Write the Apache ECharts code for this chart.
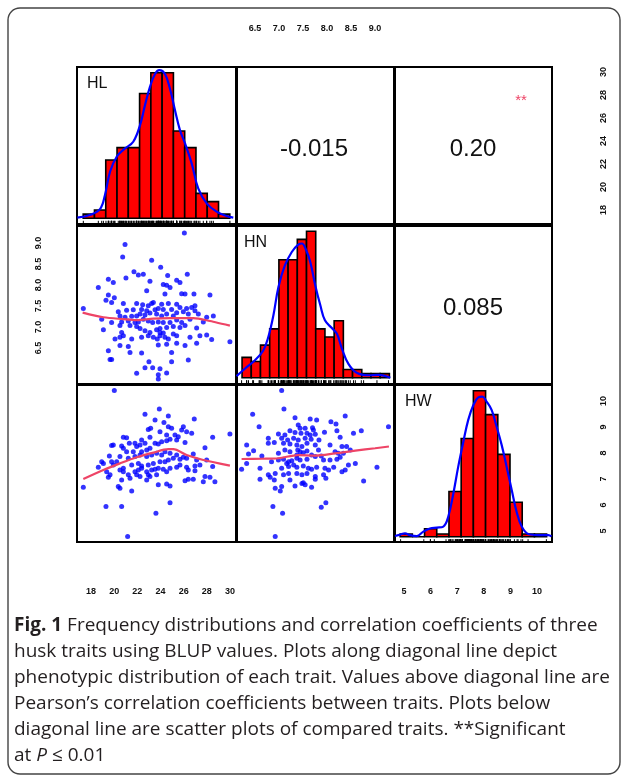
<!DOCTYPE html>
<html>
<head>
<meta charset="utf-8">
<script src="https://cdn.jsdelivr.net/npm/echarts@6/dist/echarts.min.js"></script>
<style>
  html, body { margin: 0; padding: 0; background: #fff; }
  #chart { width: 627px; height: 778px; }
</style>
</head>
<body>
<div id="chart"></div>
<script>
// ---- data ----
const traits = ['HL', 'HN', 'HW'];

// histogram breaks and counts on the diagonal
const hlBreaks = [17, 18, 19, 20, 21, 22, 23, 24, 25, 26, 27, 28, 29, 30];
const hlCounts = [1, 2, 14, 17, 17, 30, 35, 35, 21, 17, 6, 4, 1];
const hnBreaks = [6.2, 6.4, 6.6, 6.8, 7.0, 7.2, 7.4, 7.6, 7.8, 8.0, 8.2, 8.4, 8.6, 8.8, 9.0, 9.2, 9.4];
const hnCounts = [5, 4, 8, 12, 29, 29, 34, 36, 12, 10, 14, 2, 2, 1, 1, 1];
const hwBreaks = [4.5, 5.0, 5.5, 6.0, 6.5, 7.0, 7.5, 8.0, 8.5, 9.0, 9.5, 10.0, 10.5];
const hwCounts = [1, 0, 3, 1, 17, 37, 55, 46, 31, 13, 1, 1];

// density curves (in count units)
const hlDensity = [[16.48,0.16],[17.6,0.8],[18.49,2.2],[18.93,5.6],[19.38,11.2],[19.97,14.8],[20.71,16.8],
  [21.44,18.4],[22.04,22.4],[22.48,27.2],[22.92,31.6],[23.37,34.7],[23.75,35.6],[24.25,34.7],[24.69,31.2],
  [25.14,26],[25.58,21.2],[26.03,18],[26.62,13.2],[27.2,7.2],[27.95,3.6],[28.83,1.6],[29.72,0.56],[30.31,0.16]];
const hnDensity = [[6.08,0.4],[6.26,2.2],[6.48,4.3],[6.66,6.7],[6.77,10],[6.88,15.3],[6.99,22.3],[7.13,27.6],
  [7.28,30.9],[7.42,32.7],[7.5,33],[7.58,31.7],[7.68,28.5],[7.79,22.7],[7.9,17.8],[8.0,14.1],[8.15,12.2],
  [8.26,10.8],[8.37,7.1],[8.51,3.4],[8.69,1.2],[8.95,0.6],[9.16,0.7],[9.42,0]];
const hwDensity = [[4.29,0.25],[4.49,0.75],[4.7,1.26],[4.9,0.6],[5.18,0.25],[5.45,1.9],[5.72,3.1],[6.0,3.4],
  [6.27,3.8],[6.47,7.5],[6.68,16.3],[6.88,26.4],[7.09,35.8],[7.29,44],[7.5,49.6],[7.7,52.5],[7.87,52.8],
  [8.04,50.9],[8.25,47.7],[8.45,41.5],[8.66,34.5],[8.86,26.4],[9.07,17.6],[9.27,9.4],[9.48,3.8],[9.75,1],
  [10.16,0.6],[10.57,0.6],[10.7,0.1]];

// scatter: HL (x) vs HN (y)
const hlHn = [[25.97,9.35],[20.71,9.10],[20.50,8.83],[23.07,8.76],[23.87,8.61],[21.50,8.51],[20.79,8.38],[21.89,8.44],
  [22.33,8.46],[24.49,8.43],[26.23,8.46],[19.23,8.35],[19.67,8.28],[22.92,8.31],[24.10,8.24],[24.40,8.22],[25.29,8.33],
  [25.58,8.28],[24.70,8.17],[18.34,8.17],[22.63,8.10],[24.25,8.03],[25.73,8.04],[19.23,8.01],[19.76,7.95],[19.02,7.90],
  [19.52,7.85],[20.56,7.83],[21.74,7.83],[22.27,7.80],[23.07,7.83],[23.22,7.85],[22.77,7.78],[23.96,7.81],[24.55,7.83],
  [25.29,7.81],[26.03,8.03],[26.82,8.03],[28.24,8.01],[17.01,7.72],[20.11,7.65],[20.85,7.68],[21.44,7.69],[22.18,7.70],
  [22.63,7.67],[23.37,7.69],[23.66,7.72],[24.10,7.70],[24.84,7.70],[25.58,7.74],[26.17,7.72],[26.62,7.74],[26.91,7.78],
  [26.91,7.67],[20.26,7.56],[20.71,7.53],[21.30,7.55],[21.74,7.56],[22.04,7.60],[22.48,7.58],[22.92,7.62],[23.51,7.60],
  [23.96,7.56],[24.40,7.60],[24.99,7.56],[25.29,7.63],[25.88,7.65],[26.32,7.60],[27.21,7.60],[27.95,7.53],[28.54,7.56],
  [18.64,7.49],[19.52,7.42],[20.41,7.43],[21.00,7.45],[21.59,7.42],[21.89,7.43],[22.33,7.49],[22.77,7.45],[23.16,7.42],
  [23.66,7.43],[24.10,7.42],[24.70,7.42],[25.29,7.47],[25.73,7.42],[26.47,7.49],[27.65,7.43],[18.79,7.26],[20.26,7.35],
  [21.15,7.35],[21.74,7.33],[22.04,7.29],[22.48,7.24],[22.92,7.20],[23.51,7.26],[23.81,7.29],[24.40,7.31],[24.99,7.33],
  [25.58,7.31],[26.03,7.35],[27.06,7.30],[19.82,7.06],[20.26,7.10],[20.56,7.13],[21.30,7.06],[22.18,7.10],[22.77,7.13],
  [23.22,7.10],[23.57,7.06],[23.81,7.13],[24.25,7.10],[24.55,7.06],[24.99,7.17],[25.29,7.13],[26.47,7.10],[27.35,7.13],
  [27.95,7.15],[28.39,7.05],[30.01,7.00],[20.26,6.92],[21.00,6.90],[23.66,6.93],[24.40,6.95],[25.29,6.97],[26.03,6.92],
  [27.06,6.97],[19.23,6.81],[21.15,6.77],[22.18,6.76],[24.84,6.77],[19.38,6.62],[19.52,6.62],[26.32,6.61],[22.83,6.57],
  [24.84,6.57],[22.48,6.44],[23.16,6.44],[23.81,6.42],[21.74,6.32],[24.40,6.33],[23.66,6.29],[23.66,6.20],[20.41,7.20],
  [23.81,7.20],[24.10,7.19]];
const hlHnSmooth = [[16.95,7.63],[18.79,7.53],[20.56,7.49],[21.74,7.47],[23.22,7.50],[24.70,7.51],[26.76,7.51],[28.24,7.45],[30.01,7.35]];

// scatter: HL (x) vs HW (y)
const hlHw = [[19.76,10.49],[23.75,9.74],[22.48,9.52],[24.55,9.45],[26.85,9.33],[23.37,9.29],[24.16,9.18],[22.77,8.90],
  [22.98,8.95],[25.88,9.01],[25.73,8.88],[23.81,8.81],[24.55,9.01],[24.84,8.95],[26.17,8.81],[26.62,8.74],[30.01,8.71],
  [20.56,8.58],[20.85,8.56],[24.40,8.67],[25.14,8.67],[25.43,8.60],[28.48,8.58],[22.92,8.58],[22.18,8.47],[21.59,8.33],
  [21.09,8.33],[19.67,8.26],[19.52,8.24],[20.41,8.22],[20.56,8.13],[21.74,8.20],[22.04,8.26],[22.48,8.33],[23.37,8.33],
  [23.66,8.30],[23.96,8.40],[24.40,8.44],[24.70,8.50],[25.29,8.47],[26.03,8.36],[27.80,8.15],[22.92,8.13],[22.63,8.06],
  [22.18,7.99],[21.44,7.99],[20.85,7.99],[20.26,7.79],[19.32,7.81],[19.52,7.58],[19.97,7.58],[21.00,7.72],[21.59,7.79],
  [22.04,7.85],[22.63,7.79],[23.07,7.85],[23.51,7.92],[23.96,7.85],[24.25,7.99],[24.70,7.92],[25.29,7.85],[25.88,7.76],
  [25.58,7.68],[26.17,7.72],[26.76,7.89],[27.06,7.65],[27.95,7.65],[18.64,7.58],[18.79,7.51],[18.34,7.35],[19.67,7.44],
  [20.56,7.31],[21.30,7.44],[21.89,7.51],[22.18,7.40],[22.77,7.44],[23.22,7.51],[23.81,7.58],[24.25,7.58],[24.55,7.65],
  [24.99,7.72],[25.58,7.44],[26.17,7.35],[26.91,7.40],[27.35,7.44],[28.48,7.38],[19.08,7.17],[19.38,7.04],[19.23,6.94],
  [20.26,7.24],[20.56,7.17],[21.89,7.24],[22.18,7.31],[22.63,7.17],[23.07,7.24],[23.37,7.27],[23.66,7.31],[24.10,7.27],
  [24.70,7.31],[25.29,7.35],[26.32,7.24],[26.91,7.21],[21.74,7.04],[22.04,6.97],[22.77,7.04],[22.92,6.97],[23.51,7.04],
  [24.40,7.17],[27.80,6.97],[28.24,6.94],[20.41,6.83],[21.15,6.90],[26.03,6.80],[26.32,6.86],[26.76,6.86],[27.65,6.76],
  [28.68,6.76],[23.66,6.63],[24.40,6.67],[24.70,6.58],[20.11,6.56],[20.26,6.49],[21.30,6.38],[17.01,6.53],[19.02,5.74],
  [20.41,5.74],[24.70,5.90],[23.45,5.47],[20.94,4.52],[21.59,7.17],[21.00,7.04],[22.63,6.83]];
const hlHwSmooth = [[17.01,6.87],[18.79,7.24],[20.26,7.51],[21.74,7.76],[23.22,7.95],[24.55,8.09],[24.99,8.09],[26.17,7.85],[27.65,7.65],[30.01,7.42]];

// scatter: HN (x) vs HW (y)
const hnHw = [[7.06,10.49],[7.11,9.74],[6.43,9.52],[6.57,9.01],[7.35,9.38],[7.68,9.33],[7.82,9.29],[8.44,9.45],[8.13,9.22],
  [8.24,9.12],[7.42,9.08],[7.46,8.95],[7.24,8.85],[7.57,8.95],[7.73,8.97],[7.75,8.88],[9.38,9.01],[8.79,8.85],[8.62,8.74],
  [7.99,8.78],[8.26,8.85],[6.99,8.71],[7.13,8.67],[7.35,8.77],[7.48,8.74],[7.61,8.74],[7.68,8.67],[7.79,8.70],[6.77,8.54],
  [6.90,8.36],[7.06,8.54],[7.19,8.47],[7.32,8.54],[7.42,8.47],[7.57,8.54],[7.70,8.50],[7.87,8.47],[8.33,8.58],[6.30,8.26],
  [6.45,8.03],[6.77,8.33],[7.10,8.33],[7.24,8.30],[7.39,8.26],[7.50,8.20],[7.61,8.33],[7.79,8.26],[8.11,8.26],[8.37,8.20],
  [8.47,8.20],[6.34,7.89],[6.63,7.81],[6.99,7.92],[7.13,8.06],[7.24,7.99],[7.41,8.06],[7.46,7.99],[7.53,7.95],[7.61,8.02],
  [7.71,7.85],[7.92,7.81],[8.22,7.99],[8.29,7.92],[8.40,7.92],[8.55,8.06],[6.19,7.27],[6.30,7.51],[6.59,7.31],[6.84,7.58],
  [6.99,7.65],[7.10,7.68],[7.21,7.58],[7.28,7.62],[7.39,7.72],[7.46,7.65],[7.61,7.68],[7.79,7.79],[7.97,7.65],[8.11,7.65],
  [8.26,7.68],[8.33,7.76],[8.51,7.44],[8.66,7.51],[9.13,7.35],[6.77,7.04],[6.92,7.10],[7.06,7.31],[7.21,7.38],[7.32,7.44],
  [7.39,7.35],[7.53,7.40],[7.64,7.31],[7.71,7.27],[7.82,7.35],[8.00,7.31],[8.08,7.24],[8.19,7.35],[8.37,7.17],[8.44,7.24],
  [6.81,6.94],[7.10,7.04],[7.21,7.10],[7.39,7.10],[7.50,7.04],[7.61,7.10],[7.79,6.97],[7.97,7.04],[8.02,6.90],[6.59,6.86],
  [6.90,6.83],[7.24,6.83],[7.35,6.58],[7.53,6.72],[7.57,6.63],[7.71,6.53],[7.79,6.86],[8.84,6.79],[6.92,6.49],[7.06,6.56],
  [7.03,6.38],[7.50,6.69],[6.87,5.74],[7.08,5.47],[7.92,5.71],[8.02,5.90],[6.92,4.52],[7.17,7.51],[7.86,8.06],[7.39,7.85]];
const hnHwSmooth = [[6.19,7.69],[6.63,7.70],[6.99,7.72],[7.42,7.85],[7.79,7.83],[8.22,7.92],[8.66,8.03],[9.09,8.13],[9.39,8.20]];

// correlations shown above the diagonal
const corrValues = ['-0.015', '0.20', '0.085'];
const corrStars = ['', '**', ''];

// outer tick labels
const hlTicks = [18, 20, 22, 24, 26, 28, 30];
const hnTicks = [6.5, 7.0, 7.5, 8.0, 8.5, 9.0];
const hwTicks = [5, 6, 7, 8, 9, 10];

// ---- layout ----
const colLeft = [77, 237, 395], colWidth = [159, 157, 157];
const rowTop = [67, 226, 385], rowHeight = [157, 158, 157];
const traitRange = [[16.45, 30.55], [6.09, 9.50], [4.29, 10.72]];
const countRange = [[-1.37, 36.37], [-1.55, 37.3], [-2.0, 57.15]];

const chart = echarts.init(document.getElementById('chart'));

const grid = [], xAxis = [], yAxis = [], series = [];
for (let r = 0; r < 3; r++) {
  for (let c = 0; c < 3; c++) {
    const i = r * 3 + c;
    grid.push({
      left: colLeft[c], top: rowTop[r], width: colWidth[c], height: rowHeight[r],
      show: true, borderColor: '#000', borderWidth: 2
    });
    xAxis.push({ gridIndex: i, type: 'value', min: traitRange[c][0], max: traitRange[c][1], show: false });
    const yr = r === c ? countRange[r] : traitRange[r];
    yAxis.push({ gridIndex: i, type: 'value', min: yr[0], max: yr[1], show: false });
  }
}

function histSeries(idx, breaks, counts) {
  return {
    type: 'custom', xAxisIndex: idx, yAxisIndex: idx, clip: true, z: 2,
    data: counts.map((c, i) => [breaks[i], breaks[i + 1], c]),
    encode: { x: [0, 1], y: 2 },
    renderItem: (params, api) => {
      const p0 = api.coord([api.value(0), api.value(2)]);
      const p1 = api.coord([api.value(1), 0]);
      return {
        type: 'rect',
        shape: { x: p0[0], y: p0[1], width: p1[0] - p0[0], height: p1[1] - p0[1] },
        style: { fill: '#ff0000', stroke: '#000', lineWidth: 1.6 }
      };
    }
  };
}

function rugSeries(idx, values) {
  return {
    type: 'custom', xAxisIndex: idx, yAxisIndex: idx, clip: true, z: 2,
    data: values.map(v => [v, 0]),
    renderItem: (params, api) => {
      const p = api.coord([api.value(0), 0]);
      return {
        type: 'line',
        shape: { x1: p[0], y1: p[1] + 2.5, x2: p[0], y2: p[1] + 6 },
        style: { stroke: '#000', lineWidth: 1 }
      };
    }
  };
}

function densitySeries(idx, data) {
  return {
    type: 'line', xAxisIndex: idx, yAxisIndex: idx, data, smooth: 0.4,
    showSymbol: false, lineStyle: { color: '#0000ff', width: 2.2 }, z: 3
  };
}

function scatterSeries(idx, data, smooth) {
  return [{
    type: 'scatter', xAxisIndex: idx, yAxisIndex: idx, data,
    symbol: 'circle', symbolSize: 5, itemStyle: { color: '#0000ff' }
  }, {
    type: 'line', xAxisIndex: idx, yAxisIndex: idx, data: smooth, smooth: 0.3,
    showSymbol: false, lineStyle: { color: '#ee4466', width: 2.2 }, z: 3
  }];
}

series.push(histSeries(0, hlBreaks, hlCounts), rugSeries(0, hlHn.map(d => d[0])), densitySeries(0, hlDensity));
series.push(histSeries(4, hnBreaks, hnCounts), rugSeries(4, hnHw.map(d => d[0])), densitySeries(4, hnDensity));
series.push(histSeries(8, hwBreaks, hwCounts), rugSeries(8, hlHw.map(d => d[1])), densitySeries(8, hwDensity));
series.push(...scatterSeries(3, hlHn, hlHnSmooth));
series.push(...scatterSeries(6, hlHw, hlHwSmooth));
series.push(...scatterSeries(7, hnHw, hnHwSmooth));

// outer tick label axes (placed where the figure prints them)
const tickFont = { fontFamily: 'Liberation Sans Narrow, Liberation Sans, Arial', fontWeight: 'bold', fontSize: 9, color: '#111' };
function labelAxis(pos, ticks, box, fmt) {
  const gi = grid.length;
  grid.push(box);
  const step = ticks[1] - ticks[0];
  const ax = {
    gridIndex: gi, type: 'value', min: ticks[0], max: ticks[ticks.length - 1], interval: step,
    position: pos, axisLine: { show: false }, axisTick: { show: false }, splitLine: { show: false },
    axisLabel: Object.assign({ margin: 2, formatter: fmt, showMinLabel: true, showMaxLabel: true,
      rotate: (pos === 'left' || pos === 'right') ? 90 : 0 }, tickFont)
  };
  const hidden = { gridIndex: gi, type: 'value', show: false };
  if (pos === 'top' || pos === 'bottom') { xAxis.push(ax); yAxis.push(hidden); }
  else { yAxis.push(ax); xAxis.push(hidden); }
}
const oneDec = v => v.toFixed(1);
const noDec = v => String(v);
labelAxis('top', hnTicks, { left: 255, width: 120, top: 35, height: 1 }, oneDec);
labelAxis('bottom', hlTicks, { left: 91, width: 139, top: 584, height: 1 }, noDec);
labelAxis('bottom', hwTicks, { left: 404, width: 133, top: 584, height: 1 }, noDec);
labelAxis('left', hnTicks, { left: 45, width: 1, top: 243, height: 105 }, oneDec);
labelAxis('right', hlTicks, { left: 596, width: 1, top: 72, height: 138 }, noDec);
labelAxis('right', hwTicks, { left: 596, width: 1, top: 401, height: 130 }, noDec);

// texts
const panelLabelPos = [[87, 84], [244, 243], [405, 402]];
const corrPos = [[314, 149], [473, 149], [473, 308]];
const graphic = [
  { type: 'rect', shape: { x: 8, y: 8, width: 612, height: 766, r: 12 },
    style: { fill: 'none', stroke: '#444', lineWidth: 1.4 }, z: 0 }
];
traits.forEach((t, i) => graphic.push({
  type: 'text', x: panelLabelPos[i][0], y: panelLabelPos[i][1], z: 10,
  style: { text: t, fontFamily: 'Liberation Sans, Arial', fontSize: 16, fill: '#111', align: 'left', verticalAlign: 'middle' }
}));
corrValues.forEach((v, i) => graphic.push({
  type: 'text', x: corrPos[i][0], y: corrPos[i][1], z: 10,
  style: { text: v, fontFamily: 'Liberation Sans, Arial', fontSize: 24, fill: '#111', align: 'center', verticalAlign: 'middle' }
}));
corrStars.forEach((s, i) => { if (s) graphic.push({
  type: 'text', x: corrPos[i][0] + 48, y: corrPos[i][1] - 48, z: 10,
  style: { text: s, fontFamily: 'Liberation Sans, Arial', fontSize: 15, fill: '#ee4466', align: 'center', verticalAlign: 'middle' }
}); });

const captionLines = [
  '{b|Fig. 1} Frequency distributions and correlation coefficients of three',
  'husk traits using BLUP values. Plots along diagonal line depict',
  'phenotypic distribution of each trait. Values above diagonal line are',
  'Pearson’s correlation coefficients between traits. Plots below',
  'diagonal line are scatter plots of compared traits. **Significant',
  'at {i|P} ≤ 0.01'
];
const capFont = { fontFamily: 'Open Sans, Noto Sans, sans-serif', fontSize: 19, fill: '#231f20' };
captionLines.forEach((line, i) => graphic.push({
  type: 'text', x: 14, y: 626 + i * 26, z: 10,
  style: Object.assign({
    text: line, align: 'left', verticalAlign: 'middle',
    rich: {
      b: { fontWeight: 'bold', fontFamily: capFont.fontFamily, fontSize: capFont.fontSize, fill: capFont.fill },
      i: { fontStyle: 'italic', fontFamily: capFont.fontFamily, fontSize: capFont.fontSize, fill: capFont.fill }
    }
  }, capFont)
}));

chart.setOption({
  animation: false,
  backgroundColor: '#fff',
  grid, xAxis, yAxis, series, graphic
});
</script>
</body>
</html>
